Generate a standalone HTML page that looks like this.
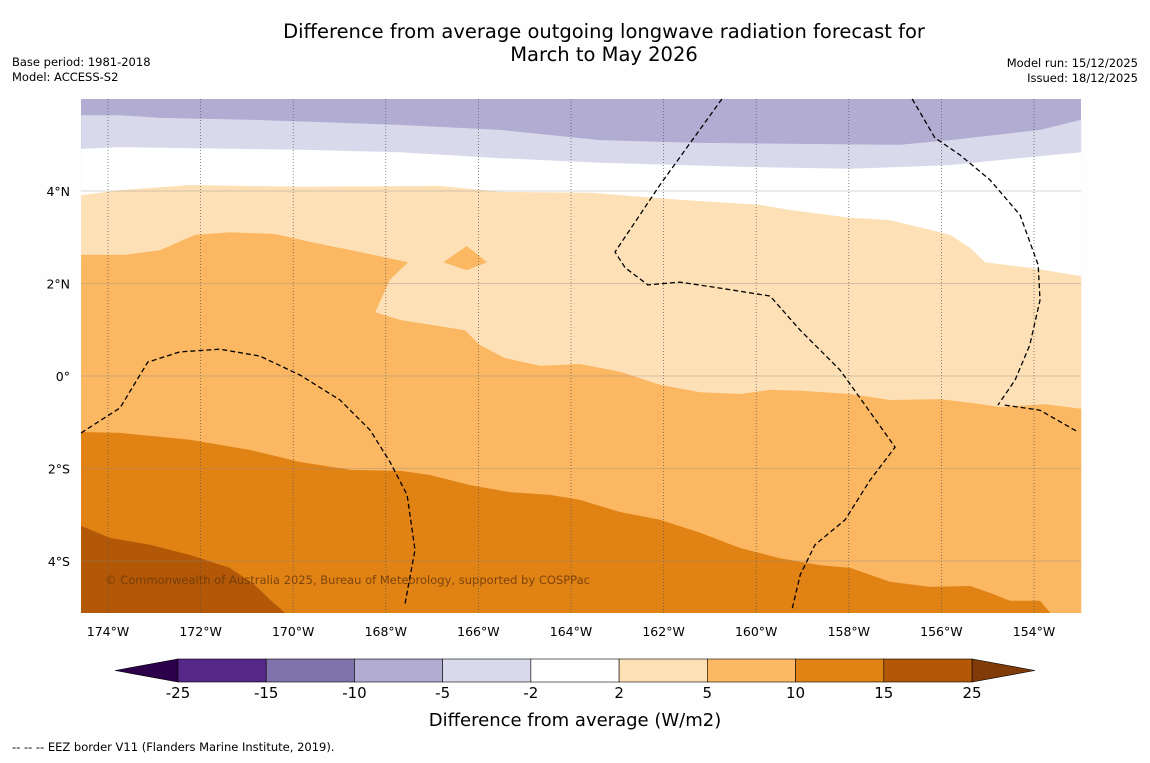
<!DOCTYPE html>
<html><head><meta charset="utf-8">
<style>
body{margin:0;background:#fff;}
svg text{font-family:"DejaVu Sans","Liberation Sans",sans-serif;}
</style></head>
<body>
<svg id="c" width="1150" height="758" viewBox="0 0 1150 758" xmlns="http://www.w3.org/2000/svg">
<rect width="1150" height="758" fill="#fefefe"/>
<text x="604" y="38" font-size="19.5" text-anchor="middle">Difference from average outgoing longwave radiation forecast for</text>
<text x="604" y="61" font-size="19.5" text-anchor="middle">March to May 2026</text>
<text x="12" y="66" font-size="11.5">Base period: 1981-2018</text>
<text x="12" y="81" font-size="11.5">Model: ACCESS-S2</text>
<text x="1138" y="67" font-size="11.5" text-anchor="end">Model run: 15/12/2025</text>
<text x="1138" y="82" font-size="11.5" text-anchor="end">Issued: 18/12/2025</text>
<g id="map"></g>
<g id="cbar"></g>
<text x="575" y="726" font-size="18" text-anchor="middle">Difference from average (W/m2)</text>
<text x="12" y="751" font-size="11.5">--  --  -- EEZ border V11 (Flanders Marine Institute, 2019).</text>
</svg>
<script>
const lonTicks=[-174,-172,-170,-168,-166,-164,-162,-160,-158,-156,-154];
const latTicks=[4,2,0,-2,-4];
const bandLavender=[[-174.58,5.64],[-173.74,5.64],[-172.88,5.58],[-170.93,5.54],[-167.69,5.43],[-165.53,5.32],[-163.37,5.10],[-161.21,5.04],[-156.89,5.00],[-155.81,5.10],[-153.87,5.32],[-152.98,5.54]];
const bandWhite=[[-174.58,4.91],[-173.74,4.95],[-169.85,4.89],[-167.69,4.84],[-165.53,4.71],[-163.37,4.61],[-160.13,4.52],[-157.97,4.48],[-155.81,4.56],[-154.73,4.67],[-152.98,4.84]];
const bandLight=[[-174.58,3.91],[-173.74,4.02],[-172.23,4.13],[-169.85,4.09],[-166.83,4.11],[-165.53,3.98],[-163.59,3.96],[-161.65,3.81],[-159.92,3.70],[-159.27,3.59],[-157.97,3.42],[-157.11,3.37],[-156.25,3.16],[-155.81,3.05],[-155.38,2.77],[-155.06,2.46],[-154.09,2.34],[-152.98,2.16]];
const bandOrange=[[-174.58,2.62],[-173.63,2.62],[-172.88,2.72],[-172.12,3.05],[-171.37,3.11],[-170.39,3.07],[-169.64,2.90],[-168.56,2.68],[-167.52,2.46],[-167.91,2.08],[-168.23,1.38],[-167.69,1.21],[-166.29,0.99],[-165.97,0.67],[-165.43,0.39],[-164.67,0.22],[-163.81,0.26],[-162.94,0.09],[-162.08,-0.19],[-161.21,-0.35],[-160.35,-0.39],[-159.70,-0.30],[-159.05,-0.32],[-157.97,-0.39],[-157.11,-0.52],[-156.03,-0.50],[-155.38,-0.58],[-154.73,-0.67],[-153.76,-0.61],[-152.98,-0.71]];
const blobOrange=[[-166.76,2.46],[-166.25,2.81],[-165.81,2.46],[-166.25,2.29]];
const bandDark=[[-174.58,-1.21],[-173.74,-1.23],[-172.23,-1.38],[-170.93,-1.60],[-169.85,-1.86],[-168.77,-2.03],[-167.69,-2.05],[-167.05,-2.14],[-166.18,-2.36],[-165.32,-2.51],[-164.45,-2.57],[-163.81,-2.68],[-162.94,-2.94],[-162.08,-3.11],[-161.21,-3.39],[-160.35,-3.72],[-159.49,-3.94],[-158.62,-4.09],[-157.97,-4.15],[-157.11,-4.45],[-156.25,-4.56],[-155.38,-4.54],[-154.95,-4.69],[-154.52,-4.86],[-153.87,-4.86],[-153.65,-5.12]];
const bandDarkest=[[-174.58,-3.24],[-173.96,-3.50],[-173.09,-3.65],[-172.23,-3.87],[-171.37,-4.15],[-170.83,-4.52],[-170.50,-4.84],[-170.18,-5.12]];
const eezLeft=[[-174.58,-1.23],[-173.74,-0.69],[-173.14,0.30],[-172.45,0.52],[-171.58,0.58],[-170.72,0.43],[-169.85,0.02],[-168.99,-0.52],[-168.34,-1.17],[-167.91,-1.86],[-167.54,-2.57],[-167.37,-3.76],[-167.59,-4.95]];
const eezMid=[[-160.74,5.99],[-162.08,4.13],[-163.05,2.68],[-162.83,2.34],[-162.34,1.97],[-161.65,2.03],[-160.78,1.90],[-159.70,1.73],[-159.05,0.99],[-158.19,0.13],[-157.54,-0.78],[-157.00,-1.54],[-157.54,-2.25],[-158.08,-3.11],[-158.73,-3.65],[-159.05,-4.30],[-159.23,-5.06]];
const eezRight=[[-156.63,5.99],[-156.14,5.15],[-155.60,4.78],[-154.95,4.24],[-154.30,3.48],[-153.91,2.40],[-153.87,1.64],[-154.09,0.67],[-154.41,-0.09],[-154.78,-0.63]];
const eezRight2=[[-154.63,-0.63],[-153.87,-0.74],[-153.05,-1.21]];
const cbLevels=[-25,-15,-10,-5,-2,2,5,10,15,25];
const cbColors=['#542788','#8073ac','#b2abd2','#d8daeb','#ffffff','#fee0b6','#fdb863','#e08214','#b35806'];

const L=81,R=1081,T=99,B=613;
const xS=lon=>108+(lon+174)*46.3;
const yS=lat=>191-(lat-4)*46.25;
const NS='http://www.w3.org/2000/svg';
const map=document.getElementById('map');
function mk(tag,attrs,parent){const e=document.createElementNS(NS,tag);for(const k in attrs)e.setAttribute(k,attrs[k]);(parent||map).appendChild(e);return e;}
const pts=a=>a.map(p=>xS(p[0]).toFixed(1)+','+yS(p[1]).toFixed(1)).join(' ');
function band(arr,color,name){
  const last=arr[arr.length-1];
  let p=pts(arr);
  p+=' '+xS(last[0]).toFixed(1)+','+B+' '+L+','+B;
  const e=mk('polygon',{points:p,fill:color});
  
  
}
const bg=mk('rect',{x:L,y:T,width:R-L,height:B-T,fill:'#b2abd2'});


band(bandLavender,'#d8daeb','band-minus5-minus2');
band(bandWhite,'#ffffff','band-minus2-2');
band(bandLight,'#fee0b6','band-2-5');
band(bandOrange,'#fbb762','band-5-10');
const blob=mk('polygon',{points:pts(blobOrange),fill:'#fbb762'});


band(bandDark,'#e08214','band-10-15');
band(bandDarkest,'#b35806','band-15-25');
lonTicks.forEach(v=>{
  const x=xS(v);
  const l=mk('line',{x1:x,x2:x,y1:T,y2:B,stroke:'#555',"stroke-width":0.7,"stroke-dasharray":'1,2'});
  
  
  const t=mk('text',{x:x,y:636,"font-size":12.5,"text-anchor":'middle'});
  t.textContent=Math.abs(v)+'°W';
  
  
});
latTicks.forEach(v=>{
  const y=yS(v);
  const l=mk('line',{x1:L,x2:R,y1:y,y2:y,stroke:'#888',"stroke-width":0.6,opacity:0.7});
  
  
  const t=mk('text',{x:70,y:y+5,"font-size":12.5,"text-anchor":'end'});
  t.textContent=v===0?'0°':Math.abs(v)+'°'+(v>0?'N':'S');
  
  
});
[eezLeft,eezMid,eezRight,eezRight2].forEach(a=>{
  const l=mk('polyline',{points:pts(a),fill:'none',stroke:'#000',"stroke-width":1.3,"stroke-dasharray":'5,3'});
  
  
});
const cp=mk('text',{x:105,y:584,"font-size":11.5,fill:'#6b3a0a',opacity:0.85,textLength:485});
cp.textContent='© Commonwealth of Australia 2025, Bureau of Meteorology, supported by COSPPac';


const cb=document.getElementById('cbar');
const cbL=178,cbR=972,cbT=659,cbB=682;
const w=(cbR-cbL)/cbColors.length;
const lt=mk('polygon',{points:`115,${(cbT+cbB)/2} ${cbL},${cbT} ${cbL},${cbB}`,fill:'#2d004b',stroke:'#000',"stroke-width":0.6},cb);


const rt=mk('polygon',{points:`1035,${(cbT+cbB)/2} ${cbR},${cbT} ${cbR},${cbB}`,fill:'#7f3b08',stroke:'#000',"stroke-width":0.6},cb);


cbColors.forEach((c,i)=>{
  const r=mk('rect',{x:cbL+i*w,y:cbT,width:w,height:cbB-cbT,fill:c,stroke:'#000',"stroke-width":0.6},cb);
  
  
});
cbLevels.forEach((v,i)=>{
  const t=mk('text',{x:cbL+i*w,y:698,"font-size":15,"text-anchor":'middle'},cb);
  t.textContent=v;
  
  
});
</script>
</body></html>
